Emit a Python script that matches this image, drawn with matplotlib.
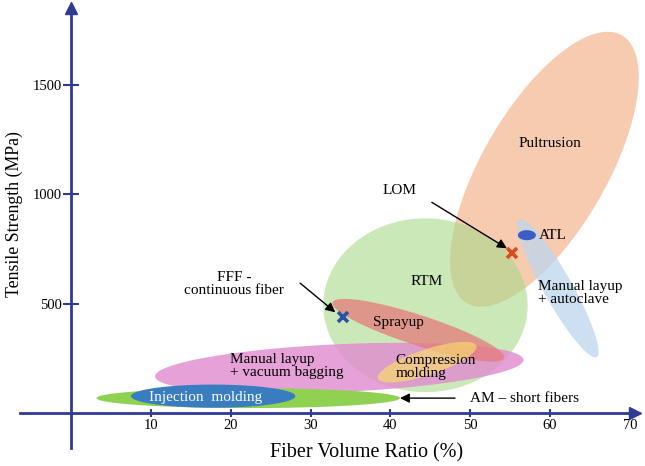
import numpy as np
import matplotlib
matplotlib.use("Agg")
import matplotlib.pyplot as plt

plt.rcParams['font.family'] = ['Liberation Serif', 'DejaVu Serif']

# process regions: centre (fiber %, MPa), semi axes (in % units on screen), tilt (deg on screen)
names    = ["Pultrusion", "Autoclave", "RTM", "Vacuum", "Sprayup", "Compression", "AM", "Injection", "ATL"]
cx       = [59.3, 61.0, 44.4, 33.6, 43.5, 44.6, 22.2, 17.8, 57.1]
cy       = [1113, 570, 492, 205, 378, 232, 68, 77, 812]
semi_a   = [19.4, 9.9, 12.8, 23.1, 11.3, 6.5, 19.0, 10.3, 1.13]
semi_b   = [7.8, 1.8, 10.9, 3.0, 1.9, 1.6, 1.25, 1.45, 0.63]
tilt     = [60, -60.7, 0, 2.6, -18, 18.4, 0, 0, 0]
colors   = ["#f7cbb0", "#bcd6ee", "#a9d98a", "#e28ad0", "#e57b7b", "#f7d96e", "#8fd150", "#3a7cc0", "#3c5ec4"]
alphas   = [1.0, 0.75, 0.6, 0.8, 0.75, 0.7, 1.0, 1.0, 1.0]

# the two printed points
pt_x = [34.1, 55.3]
pt_y = [438, 730]
pt_col = ["#2a55a3", "#d5501c"]

xticks = [10, 20, 30, 40, 50, 60, 70]
yticks = [500, 1000, 1500]

AXC = "#2e3a94"
MPA_PER_PCT = 36.4  # screen ratio between the two scales


def ellipse_xy(x0, y0, a, b, ang):
    t = np.linspace(0, 2 * np.pi, 200)
    th = np.radians(ang)
    dx = a * np.cos(t) * np.cos(th) - b * np.sin(t) * np.sin(th)
    dy = a * np.cos(t) * np.sin(th) + b * np.sin(t) * np.cos(th)
    return x0 + dx, y0 + dy * MPA_PER_PCT


fig = plt.figure(figsize=(6.45, 4.66), dpi=100)
ax = fig.add_axes([0, 0, 1, 1])
ax.set_xlim(-8.9, 71.9)
ax.set_ylim(-242, 1886)

for i in range(len(names)):
    ex, ey = ellipse_xy(cx[i], cy[i], semi_a[i], semi_b[i], tilt[i])
    ax.fill(ex, ey, color=colors[i], alpha=alphas[i], lw=0, zorder=2 + i * 0.1)

for x, y, c in zip(pt_x, pt_y, pt_col):
    ax.plot(x, y, marker="x", ms=7, mew=2.6, color=c, zorder=5)

# arrows
arr = dict(arrowstyle="-|>", color="black", lw=1.0, mutation_scale=14, shrinkA=0, shrinkB=0)
ax.annotate("", xy=(33.1, 460), xytext=(28.7, 593), arrowprops=arr, zorder=6)
ax.annotate("", xy=(54.6, 752), xytext=(45.2, 962), arrowprops=arr, zorder=6)
ax.annotate("", xy=(41.2, 68), xytext=(48.1, 68), arrowprops=arr, zorder=6)

fs = 11
ax.text(60.0, 1231, "Pultrusion", fontsize=fs, ha="center", va="center", zorder=7)
ax.text(41.1, 1017, "LOM", fontsize=fs, ha="center", va="center", zorder=7)
ax.text(58.6, 812, "ATL", fontsize=fs, ha="left", va="center", zorder=7)
ax.text(44.5, 602, "RTM", fontsize=fs, ha="center", va="center", zorder=7)
ax.text(58.5, 547, "Manual layup\n+ autoclave", fontsize=fs, ha="left", va="center",
        linespacing=1.05, zorder=7)
ax.text(41.0, 415, "Sprayup", fontsize=fs, ha="center", va="center", zorder=7)
ax.text(40.6, 210, "Compression\nmolding", fontsize=fs, ha="left", va="center",
        linespacing=1.05, zorder=7)
ax.text(19.9, 214, "Manual layup\n+ vacuum bagging", fontsize=fs, ha="left", va="center",
        linespacing=1.05, zorder=7)
ax.text(16.8, 73, "Injection  molding", fontsize=fs, ha="center", va="center",
        color="white", zorder=7)
ax.text(50.0, 68, "AM \u2013 short fibers", fontsize=fs, ha="left", va="center", zorder=7)
ax.text(20.4, 588, "FFF -\ncontinuous fiber", fontsize=fs, ha="center", va="center",
        linespacing=1.05, zorder=7)

# axes through the origin, with arrow heads
for s in ["top", "right"]:
    ax.spines[s].set_visible(False)
ax.spines["left"].set_position(("data", 0))
ax.spines["bottom"].set_position(("data", 0))
ax.spines["left"].set_bounds(-160, 1850)
ax.spines["bottom"].set_bounds(-6.4, 70.5)
for s in ["left", "bottom"]:
    ax.spines[s].set_color(AXC)
    ax.spines[s].set_linewidth(2.0)
    ax.spines[s].set_zorder(8)
ax.plot(0, 1850, marker="^", ms=9, color=AXC, clip_on=False, zorder=9)
ax.plot(70.6, 0, marker=">", ms=9, color=AXC, clip_on=False, zorder=9)

ax.set_xticks(xticks)
ax.set_yticks(yticks)
ax.tick_params(axis="x", direction="inout", length=6, width=1.5, color=AXC,
               labelsize=10.5, pad=1)
ax.tick_params(axis="y", direction="inout", length=11, width=1.5, color=AXC,
               labelsize=10.5, pad=1)

ax.text(37.0, -183, "Fiber Volume Ratio (%)", fontsize=14.5, ha="center", va="center")
ax.text(-7.1, 910, "Tensile Strength (MPa)", fontsize=12.8, ha="center", va="center",
        rotation=90)

fig.savefig("out.png", dpi=100)
